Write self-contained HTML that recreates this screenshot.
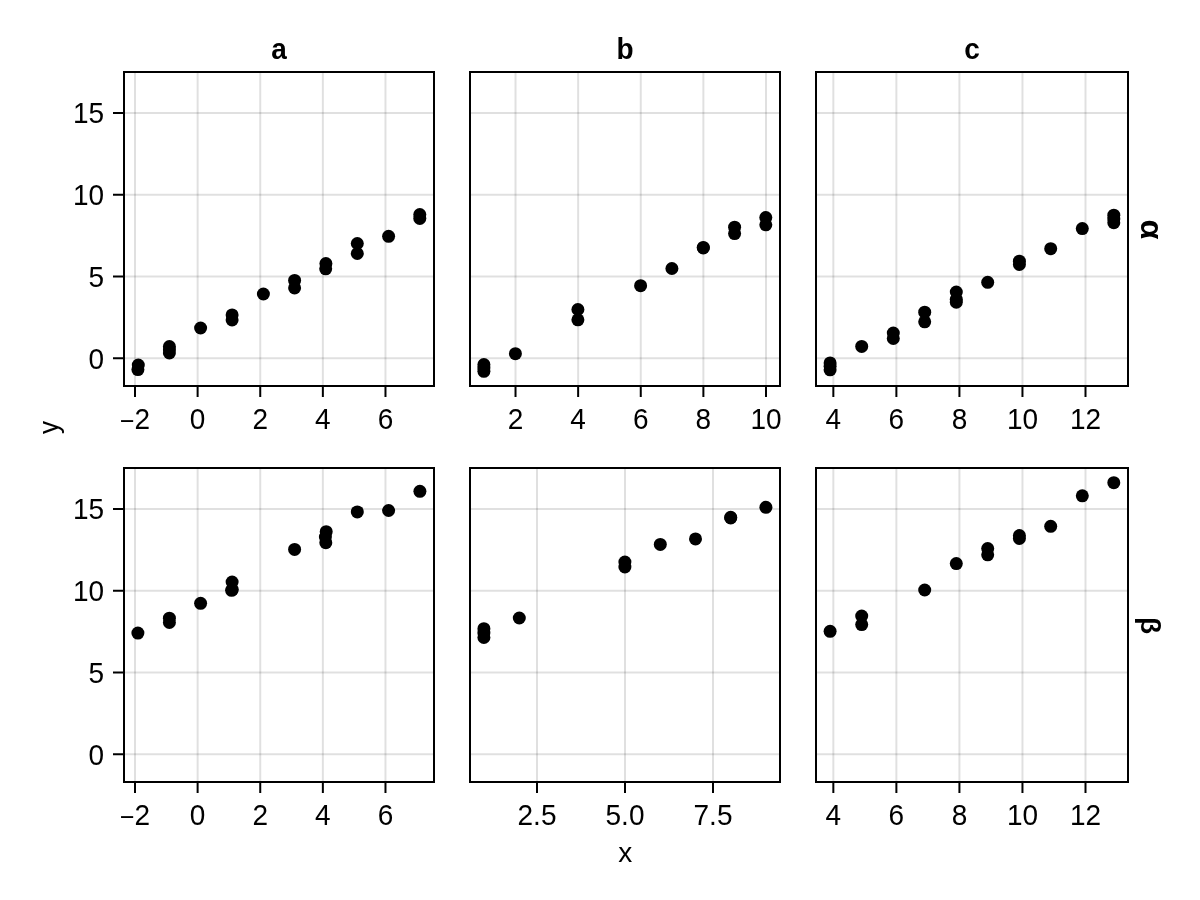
<!DOCTYPE html>
<html><head><meta charset="utf-8"><title>facet scatter</title>
<style>html,body{margin:0;padding:0;background:#fff;}svg{display:block;will-change:transform;}text{font-family:"Liberation Sans", "DejaVu Sans", sans-serif;fill:#000;}</style></head><body>
<svg width="1200" height="900" viewBox="0 0 1200 900">
<rect x="0" y="0" width="1200" height="900" fill="#fff"/>
<path d="M135.00 72V386M197.62 72V386M260.24 72V386M322.86 72V386M385.48 72V386M135.00 468V782M197.62 468V782M260.24 468V782M322.86 468V782M385.48 468V782M515.52 72V386M578.14 72V386M640.76 72V386M703.38 72V386M766.00 72V386M537.00 468V782M625.00 468V782M713.00 468V782M833.34 72V386M896.38 72V386M959.42 72V386M1022.46 72V386M1085.50 72V386M833.34 468V782M896.38 468V782M959.42 468V782M1022.46 468V782M1085.50 468V782" stroke="#000" stroke-opacity="0.12" stroke-width="2" fill="none"/>
<path d="M124 358.20H434M124 276.45H434M124 194.70H434M124 112.95H434M124 754.20H434M124 672.45H434M124 590.70H434M124 508.95H434M470 358.20H780M470 276.45H780M470 194.70H780M470 112.95H780M470 754.20H780M470 672.45H780M470 590.70H780M470 508.95H780M816 358.20H1128M816 276.45H1128M816 194.70H1128M816 112.95H1128M816 754.20H1128M816 672.45H1128M816 590.70H1128M816 508.95H1128" stroke="#000" stroke-opacity="0.12" stroke-width="2" fill="none"/>
<g fill="#000"><circle cx="138.3" cy="365.1" r="6.5"/><circle cx="137.9" cy="369.6" r="6.5"/><circle cx="169.4" cy="346.5" r="6.5"/><circle cx="169.4" cy="349.7" r="6.5"/><circle cx="169.4" cy="352.9" r="6.5"/><circle cx="200.6" cy="328.0" r="6.5"/><circle cx="232.1" cy="314.9" r="6.5"/><circle cx="232.1" cy="319.9" r="6.5"/><circle cx="263.4" cy="294.0" r="6.5"/><circle cx="294.6" cy="280.4" r="6.5"/><circle cx="294.6" cy="287.9" r="6.5"/><circle cx="325.9" cy="263.6" r="6.5"/><circle cx="325.7" cy="268.8" r="6.5"/><circle cx="357.3" cy="243.5" r="6.5"/><circle cx="357.3" cy="253.5" r="6.5"/><circle cx="388.6" cy="236.3" r="6.5"/><circle cx="419.8" cy="214.5" r="6.5"/><circle cx="419.8" cy="218.4" r="6.5"/><circle cx="483.9" cy="364.5" r="6.5"/><circle cx="483.9" cy="368.0" r="6.5"/><circle cx="483.9" cy="371.3" r="6.5"/><circle cx="515.4" cy="353.7" r="6.5"/><circle cx="577.9" cy="309.5" r="6.5"/><circle cx="577.9" cy="319.8" r="6.5"/><circle cx="640.6" cy="285.7" r="6.5"/><circle cx="671.9" cy="268.5" r="6.5"/><circle cx="703.3" cy="247.4" r="6.5"/><circle cx="703.3" cy="248.0" r="6.5"/><circle cx="734.6" cy="227.2" r="6.5"/><circle cx="734.6" cy="233.6" r="6.5"/><circle cx="765.8" cy="217.5" r="6.5"/><circle cx="765.8" cy="224.8" r="6.5"/><circle cx="830.1" cy="362.9" r="6.5"/><circle cx="830.1" cy="366.3" r="6.5"/><circle cx="830.1" cy="369.8" r="6.5"/><circle cx="861.7" cy="346.4" r="6.5"/><circle cx="893.3" cy="333.1" r="6.5"/><circle cx="893.3" cy="338.5" r="6.5"/><circle cx="924.7" cy="312.2" r="6.5"/><circle cx="924.7" cy="321.8" r="6.5"/><circle cx="956.3" cy="292.1" r="6.5"/><circle cx="956.3" cy="299.3" r="6.5"/><circle cx="956.3" cy="302.2" r="6.5"/><circle cx="987.7" cy="282.3" r="6.5"/><circle cx="1019.4" cy="261.2" r="6.5"/><circle cx="1019.4" cy="264.5" r="6.5"/><circle cx="1050.7" cy="248.7" r="6.5"/><circle cx="1082.3" cy="228.6" r="6.5"/><circle cx="1113.8" cy="215.2" r="6.5"/><circle cx="1113.8" cy="219.0" r="6.5"/><circle cx="1113.8" cy="222.7" r="6.5"/><circle cx="137.9" cy="633.1" r="6.5"/><circle cx="169.4" cy="618.2" r="6.5"/><circle cx="169.4" cy="622.5" r="6.5"/><circle cx="200.6" cy="603.3" r="6.5"/><circle cx="232.1" cy="582.0" r="6.5"/><circle cx="231.6" cy="590.3" r="6.5"/><circle cx="232.3" cy="589.6" r="6.5"/><circle cx="294.6" cy="549.4" r="6.5"/><circle cx="326.2" cy="531.7" r="6.5"/><circle cx="325.4" cy="537.0" r="6.5"/><circle cx="325.8" cy="542.7" r="6.5"/><circle cx="357.3" cy="511.9" r="6.5"/><circle cx="388.6" cy="510.5" r="6.5"/><circle cx="419.9" cy="491.3" r="6.5"/><circle cx="483.9" cy="628.7" r="6.5"/><circle cx="483.9" cy="633.0" r="6.5"/><circle cx="483.9" cy="637.5" r="6.5"/><circle cx="519.3" cy="618.0" r="6.5"/><circle cx="624.9" cy="562.1" r="6.5"/><circle cx="624.9" cy="567.0" r="6.5"/><circle cx="660.3" cy="544.4" r="6.5"/><circle cx="695.5" cy="538.9" r="6.5"/><circle cx="730.7" cy="517.3" r="6.5"/><circle cx="730.7" cy="517.9" r="6.5"/><circle cx="765.9" cy="507.3" r="6.5"/><circle cx="830.1" cy="631.3" r="6.5"/><circle cx="861.7" cy="616.1" r="6.5"/><circle cx="861.7" cy="624.6" r="6.5"/><circle cx="924.7" cy="590.0" r="6.5"/><circle cx="956.3" cy="563.6" r="6.5"/><circle cx="987.7" cy="548.5" r="6.5"/><circle cx="987.7" cy="554.8" r="6.5"/><circle cx="1019.4" cy="535.6" r="6.5"/><circle cx="1019.4" cy="538.5" r="6.5"/><circle cx="1050.7" cy="526.3" r="6.5"/><circle cx="1082.3" cy="495.8" r="6.5"/><circle cx="1113.8" cy="482.7" r="6.5"/></g>
<g fill="none" stroke="#000" stroke-width="2"><rect x="124" y="72" width="310" height="314"/><rect x="124" y="468" width="310" height="314"/><rect x="470" y="72" width="310" height="314"/><rect x="470" y="468" width="310" height="314"/><rect x="816" y="72" width="312" height="314"/><rect x="816" y="468" width="312" height="314"/></g>
<path d="M135.00 387V397M197.62 387V397M260.24 387V397M322.86 387V397M385.48 387V397M135.00 783V793M197.62 783V793M260.24 783V793M322.86 783V793M385.48 783V793M515.52 387V397M578.14 387V397M640.76 387V397M703.38 387V397M766.00 387V397M537.00 783V793M625.00 783V793M713.00 783V793M833.34 387V397M896.38 387V397M959.42 387V397M1022.46 387V397M1085.50 387V397M833.34 783V793M896.38 783V793M959.42 783V793M1022.46 783V793M1085.50 783V793M113 358.20H123M113 276.45H123M113 194.70H123M113 112.95H123M113 754.20H123M113 672.45H123M113 590.70H123M113 508.95H123" stroke="#000" stroke-width="2" fill="none"/>
<g font-size="28"><text transform="translate(135.00 428.6) scale(1 1.075)" text-anchor="middle"><tspan dy="1.6" font-size="25">−</tspan><tspan dy="-1.6">2</tspan></text><text transform="translate(197.62 428.6) scale(1 1.075)" text-anchor="middle">0</text><text transform="translate(260.24 428.6) scale(1 1.075)" text-anchor="middle">2</text><text transform="translate(322.86 428.6) scale(1 1.075)" text-anchor="middle">4</text><text transform="translate(385.48 428.6) scale(1 1.075)" text-anchor="middle">6</text><text transform="translate(135.00 824.6) scale(1 1.075)" text-anchor="middle"><tspan dy="1.6" font-size="25">−</tspan><tspan dy="-1.6">2</tspan></text><text transform="translate(197.62 824.6) scale(1 1.075)" text-anchor="middle">0</text><text transform="translate(260.24 824.6) scale(1 1.075)" text-anchor="middle">2</text><text transform="translate(322.86 824.6) scale(1 1.075)" text-anchor="middle">4</text><text transform="translate(385.48 824.6) scale(1 1.075)" text-anchor="middle">6</text><text transform="translate(515.52 428.6) scale(1 1.075)" text-anchor="middle">2</text><text transform="translate(578.14 428.6) scale(1 1.075)" text-anchor="middle">4</text><text transform="translate(640.76 428.6) scale(1 1.075)" text-anchor="middle">6</text><text transform="translate(703.38 428.6) scale(1 1.075)" text-anchor="middle">8</text><text transform="translate(766.00 428.6) scale(1 1.075)" text-anchor="middle">10</text><text transform="translate(537.00 824.6) scale(1 1.075)" text-anchor="middle">2.5</text><text transform="translate(625.00 824.6) scale(1 1.075)" text-anchor="middle">5.0</text><text transform="translate(713.00 824.6) scale(1 1.075)" text-anchor="middle">7.5</text><text transform="translate(833.34 428.6) scale(1 1.075)" text-anchor="middle">4</text><text transform="translate(896.38 428.6) scale(1 1.075)" text-anchor="middle">6</text><text transform="translate(959.42 428.6) scale(1 1.075)" text-anchor="middle">8</text><text transform="translate(1022.46 428.6) scale(1 1.075)" text-anchor="middle">10</text><text transform="translate(1085.50 428.6) scale(1 1.075)" text-anchor="middle">12</text><text transform="translate(833.34 824.6) scale(1 1.075)" text-anchor="middle">4</text><text transform="translate(896.38 824.6) scale(1 1.075)" text-anchor="middle">6</text><text transform="translate(959.42 824.6) scale(1 1.075)" text-anchor="middle">8</text><text transform="translate(1022.46 824.6) scale(1 1.075)" text-anchor="middle">10</text><text transform="translate(1085.50 824.6) scale(1 1.075)" text-anchor="middle">12</text><text transform="translate(104 368.50) scale(1 1.075)" text-anchor="end">0</text><text transform="translate(104 286.75) scale(1 1.075)" text-anchor="end">5</text><text transform="translate(104 205.00) scale(1 1.075)" text-anchor="end">10</text><text transform="translate(104 123.25) scale(1 1.075)" text-anchor="end">15</text><text transform="translate(104 764.50) scale(1 1.075)" text-anchor="end">0</text><text transform="translate(104 682.75) scale(1 1.075)" text-anchor="end">5</text><text transform="translate(104 601.00) scale(1 1.075)" text-anchor="end">10</text><text transform="translate(104 519.25) scale(1 1.075)" text-anchor="end">15</text></g>
<g font-size="28"><text transform="translate(279 58.6) scale(1 1.05)" text-anchor="middle" font-weight="bold">a</text><text transform="translate(625 58.6) scale(1 1.05)" text-anchor="middle" font-weight="bold">b</text><text transform="translate(972 58.6) scale(1 1.05)" text-anchor="middle" font-weight="bold">c</text></g>
<g font-size="28" font-weight="bold"><text transform="translate(1141 229.4) rotate(90) scale(1.16 1.1)" text-anchor="middle">α</text><text transform="translate(1141 625.6) rotate(90)" text-anchor="middle">β</text></g>
<g font-size="28"><text x="625.3" y="862" text-anchor="middle">x</text><text transform="translate(58.4 427.5) rotate(-90) scale(0.93 0.97)" text-anchor="middle">y</text></g>
</svg></body></html>
